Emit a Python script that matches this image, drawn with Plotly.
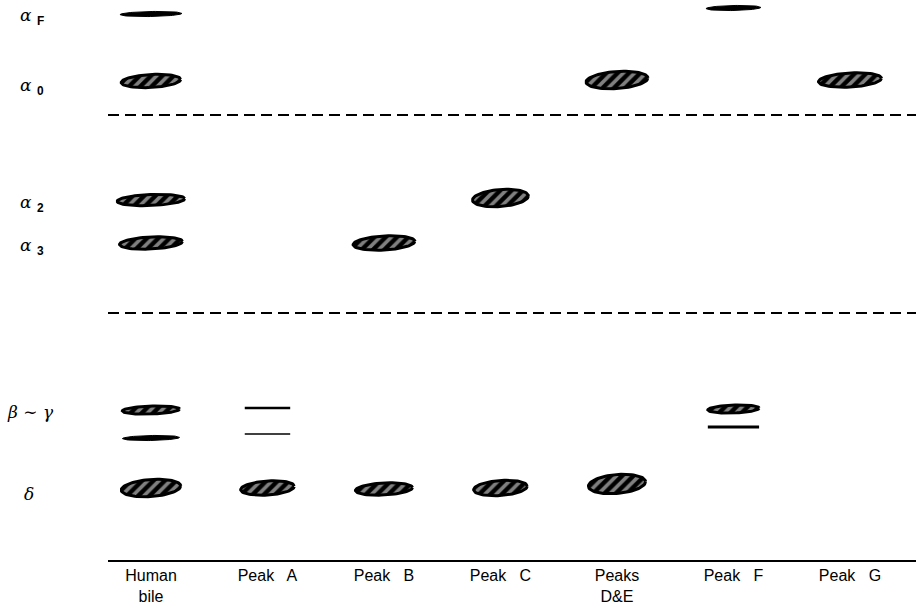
import numpy as np
import plotly.graph_objects as go

# ---------------- data ----------------
lanes = ["Human<br>bile", "Peak   A", "Peak   B", "Peak   C", "Peaks<br>D&E", "Peak   F", "Peak   G"]

fraction_labels = [
    "<i>α</i> <sub><span style='font-family:Liberation Sans'><b>F</b></span></sub>",
    "<i>α</i> <sub><span style='font-family:Liberation Sans'><b>0</b></span></sub>",
    "<i>α</i> <sub><span style='font-family:Liberation Sans'><b>2</b></span></sub>",
    "<i>α</i> <sub><span style='font-family:Liberation Sans'><b>3</b></span></sub>",
    "<i>β</i> ∼ <i>γ</i>",
    "<i>δ</i>",
]
fraction_label_indent = [0.023, 0.023, 0.023, 0.023, 0.006, 0.027]
fraction_migration = [16, 86, 203, 246, 412, 494]
separator_migration = [115, 313]

# one entry per band
band_lane = [0, 0, 0, 0, 0, 0, 0,
             1, 1, 1,
             2, 2,
             3, 3,
             4, 4,
             5, 5, 5,
             6]
band_migration = [14, 81, 200, 243, 410, 438, 488,
                  408, 434, 488,
                  243, 489,
                  198, 488,
                  80, 484,
                  8, 409, 427,
                  80]
band_kind = ["solid", "hatch", "hatch", "hatch", "hatch", "solid", "hatch",
             "line", "line", "hatch",
             "hatch", "hatch",
             "hatch", "hatch",
             "hatch", "hatch",
             "solid", "hatch", "line",
             "hatch"]
band_spread = [0.53, 0.51, 0.58, 0.54, 0.49, 0.49, 0.51,
               0.39, 0.39, 0.46,
               0.53, 0.49,
               0.48, 0.46,
               0.53, 0.49,
               0.47, 0.44, 0.44,
               0.54]
band_density = [5, 13, 11, 12, 8, 5, 17,
                2.5, 1.5, 14,
                14, 12,
                17, 15,
                17, 19,
                5, 8, 3,
                14]

# ---------------- figure ----------------
fig = go.Figure()

t = np.linspace(0, 2 * np.pi, 80)
for lane, mig, kind, spread, dens in zip(band_lane, band_migration, band_kind,
                                         band_spread, band_density):
    if kind == "line":
        fig.add_trace(go.Scatter(
            x=[lane - spread / 2, lane + spread / 2], y=[mig, mig],
            mode="lines", line=dict(color="black", width=dens),
            hoverinfo="skip", showlegend=False))
        continue
    xs = lane + spread / 2 * np.cos(t)
    ys = mig + dens / 2 * np.sin(t) - dens * 0.12 * np.cos(t)
    if kind == "hatch":
        fig.add_trace(go.Scatter(
            x=xs, y=ys, mode="lines", fill="toself",
            fillcolor="black",
            fillpattern=dict(shape="/", fgcolor="white", bgcolor="black",
                             size=8, solidity=0.45),
            line=dict(color="black", width=3),
            hoverinfo="skip", showlegend=False))
    else:
        fig.add_trace(go.Scatter(
            x=xs, y=ys, mode="lines", fill="toself", fillcolor="black",
            line=dict(color="black", width=1),
            hoverinfo="skip", showlegend=False))

xmin, xmax = -0.369, 6.567
for sep in separator_migration:
    fig.add_trace(go.Scatter(
        x=[xmin, xmax], y=[sep, sep], mode="lines",
        line=dict(color="black", width=2, dash="11px,6px"),
        hoverinfo="skip", showlegend=False))

for lab, mig, ind in zip(fraction_labels, fraction_migration, fraction_label_indent):
    fig.add_annotation(
        x=-0.134 + ind, xref="paper", y=mig, yref="y", text=lab,
        showarrow=False, xanchor="left", yanchor="middle",
        font=dict(family="DejaVu Serif", size=17, color="black"))

fig.update_xaxes(
    range=[xmin, xmax], tickvals=list(range(len(lanes))), ticktext=lanes,
    showgrid=False, zeroline=False, showline=True, linecolor="black",
    linewidth=1.5, ticks="", tickfont=dict(family="Liberation Sans", size=16,
                                           color="black"))
fig.update_yaxes(range=[560, 0], showgrid=False, zeroline=False,
                 showticklabels=False, ticks="", showline=False)

fig.update_layout(
    width=916, height=609,
    margin=dict(l=108, r=0, t=0, b=49),
    paper_bgcolor="white", plot_bgcolor="white",
)

fig.write_html("out.html", config={"displayModeBar": False},
               post_script="document.body.style.margin='0';document.body.style.overflow='hidden';")
